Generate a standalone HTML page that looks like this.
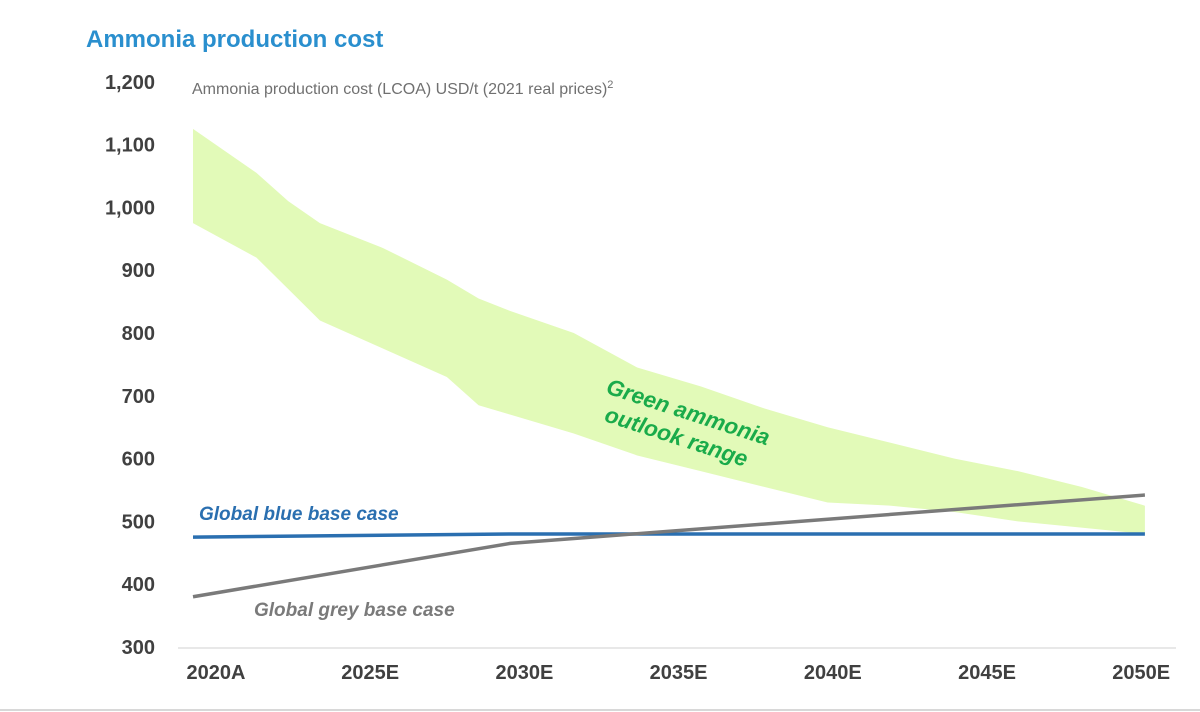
<!DOCTYPE html>
<html><head><meta charset="utf-8"><style>
body{margin:0;background:#fff;}
svg{display:block;font-family:"Liberation Sans",Arial,sans-serif;}
</style></head><body>
<svg id="chart" width="1200" height="712" viewBox="0 0 1200 712">
<text x="86" y="47" font-size="24" font-weight="bold" fill="#2a8fce">Ammonia production cost</text>
<text x="192" y="94" font-size="16" fill="#707070">Ammonia production cost (LCOA) USD/t (2021 real prices)<tspan font-size="11" dy="-6">2</tspan></text>
<g id="yticks"></g><g id="xticks"></g>
<g id="marks"></g>
<line x1="178" y1="648" x2="1176" y2="648" stroke="#d0d0d0" stroke-width="1"/>
<line x1="0" y1="710" x2="1200" y2="710" stroke="#d8d8d8" stroke-width="2"/>
<text transform="translate(605,393) rotate(18)" font-size="22.5" font-weight="bold" font-style="italic" fill="#1aab4a"><tspan x="0" y="0">Green ammonia</tspan><tspan x="7" y="27">outlook range</tspan></text>
<text x="199" y="520" font-size="19" font-weight="bold" font-style="italic" fill="#2a6fb0">Global blue base case</text>
<text x="254" y="616" font-size="19" font-weight="bold" font-style="italic" fill="#7a7a7a">Global grey base case</text>
</svg>
<script>
const yTicks=[300,400,500,600,700,800,900,1000,1100,1200];
const xLabels=["2020A","2025E","2030E","2035E","2040E","2045E","2050E"];
const bandYears=[2020,2022,2023,2024,2026,2028,2029,2030,2032,2034,2036,2038,2040,2042,2044,2046,2048,2050];
const bandUpper=[1125,1055,1010,975,935,885,855,835,800,745,715,680,650,625,600,580,555,525];
const bandLower=[975,920,870,820,775,730,685,670,640,605,580,555,530,525,515,500,490,480];
const blueYears=[2020,2030,2050];
const blueValues=[475,480,480];
const greyYears=[2020,2030,2050];
const greyValues=[380,465,542];
const NS="http://www.w3.org/2000/svg";
const x=yr=>193+(yr-2020)*31.73;
const y=v=>647-(v-300)*0.628;
function mk(tag,attrs,parent){const e=document.createElementNS(NS,tag);for(const k in attrs)e.setAttribute(k,attrs[k]);parent.appendChild(e);return e;}
const yt=document.getElementById('yticks');
yTicks.forEach(v=>{const t=mk('text',{x:155,y:y(v)+7,'text-anchor':'end','font-size':20,'font-weight':'bold',fill:'#404040'},yt);


t.textContent=v.toLocaleString('en-US');});
const xt=document.getElementById('xticks');
xLabels.forEach((l,i)=>{const t=mk('text',{x:216+i*154.2,y:679,'text-anchor':'middle','font-size':20,'font-weight':'bold',fill:'#404040'},xt);


t.textContent=l;});
const m=document.getElementById('marks');
let pts=bandYears.map((yr,i)=>x(yr)+','+y(bandUpper[i]));
for(let i=bandYears.length-1;i>=0;i--)pts.push(x(bandYears[i])+','+y(bandLower[i]));
const band=mk('polygon',{points:pts.join(' '),fill:'#e2fab8'},m);


const bl=mk('polyline',{points:blueYears.map((yr,i)=>x(yr)+','+y(blueValues[i])).join(' '),fill:'none',stroke:'#2a6fb0','stroke-width':3.5},m);


const gl=mk('polyline',{points:greyYears.map((yr,i)=>x(yr)+','+y(greyValues[i])).join(' '),fill:'none',stroke:'#7a7a7a','stroke-width':3.5},m);


</script>
</body></html>
